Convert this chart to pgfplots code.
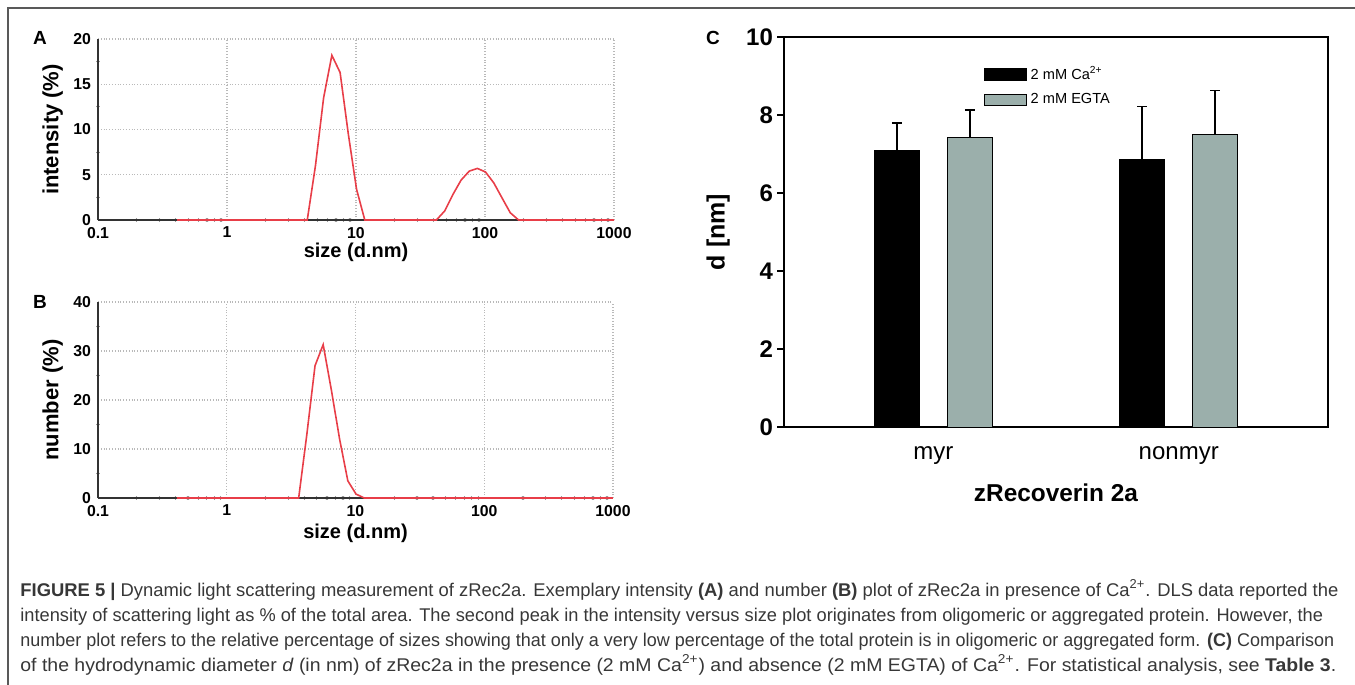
\documentclass[border=0pt]{standalone}
\usepackage{pgfplots}
\pgfplotsset{compat=1.18}
\usepackage{fontspec}
\setmainfont{Liberation Sans}
\definecolor{dlsred}{RGB}{232,62,72}
\definecolor{barGray}{RGB}{155,175,171}
\definecolor{capt}{RGB}{55,55,55}
\begin{document}
\begin{tikzpicture}[x=0.5pt,y=-0.5pt]
\useasboundingbox (0,0) rectangle (1355,685);
\draw[black!65, line width=0.8pt] (8,685) -- (8,8) -- (1355,8);

% Panel A
\begin{axis}[at={(49pt,-110pt)}, width=258pt, height=90.5pt,
    anchor=south west, scale only axis,
    xmode=log, xmin=0.1, xmax=1000,
    xtick={0.1,1,10,100,1000}, xticklabels={0.1,1,10,100,1000},
    minor xtick={0.2,0.3,0.4,0.5,0.6,0.7,0.8,0.9,2,3,4,5,6,7,8,9,20,30,40,50,60,70,80,90,200,300,400,500,600,700,800,900},
    axis x line*=bottom, axis y line*=left,
    axis line style={-, black!80, line width=1pt},
    major grid style={gray!55, densely dotted, line width=0.7pt},
    xmajorgrids, ymajorgrids,
    major tick length=0pt,
    minor tick length=0.01pt,
    minor tick style={line width=1.6pt, line cap=round, black!80},
    /pgf/number format/assume math mode=true,
    ticklabel style={font=\fontsize{7.9pt}{8pt}\selectfont\bfseries},
    xlabel style={font=\fontsize{10pt}{11pt}\selectfont\bfseries},
    ylabel style={font=\fontsize{11pt}{12pt}\selectfont\bfseries},
    xlabel={size (d.nm)},
  ymin=0, ymax=20, ytick={0,5,10,15,20}, minor y tick num=1,
  ylabel={intensity (\%)},
  xlabel style={at={(axis description cs:0.5,0)}, anchor=center, yshift=-16pt},
  ylabel style={at={(axis description cs:-0.088,0.5)}, anchor=center}]
\addplot[dlsred, line width=0.8pt] coordinates {
(0.41,0) (4.19,0) (4.85,6) (5.61,13.5) (6.50,18.2) (7.53,16.3) (8.72,9.5) (10.1,3.4) (11.7,0)
(42,0) (48.7,1.0) (56.3,2.8) (65.2,4.4) (75.5,5.4) (87.4,5.7) (101,5.3) (117,4.1) (136,2.4) (157,0.8) (182,0) (1000,0)};
\end{axis}

% Panel B
\begin{axis}[at={(49pt,-249pt)}, width=257.5pt, height=98pt,
    anchor=south west, scale only axis,
    xmode=log, xmin=0.1, xmax=1000,
    xtick={0.1,1,10,100,1000}, xticklabels={0.1,1,10,100,1000},
    minor xtick={0.2,0.3,0.4,0.5,0.6,0.7,0.8,0.9,2,3,4,5,6,7,8,9,20,30,40,50,60,70,80,90,200,300,400,500,600,700,800,900},
    axis x line*=bottom, axis y line*=left,
    axis line style={-, black!80, line width=1pt},
    major grid style={gray!55, densely dotted, line width=0.7pt},
    xmajorgrids, ymajorgrids,
    major tick length=0pt,
    minor tick length=0.01pt,
    minor tick style={line width=1.6pt, line cap=round, black!80},
    /pgf/number format/assume math mode=true,
    ticklabel style={font=\fontsize{7.9pt}{8pt}\selectfont\bfseries},
    xlabel style={font=\fontsize{10pt}{11pt}\selectfont\bfseries},
    ylabel style={font=\fontsize{11pt}{12pt}\selectfont\bfseries},
    xlabel={size (d.nm)},
  ymin=0, ymax=40, ytick={0,10,20,30,40}, minor y tick num=1,
  ylabel={number (\%)},
  xlabel style={at={(axis description cs:0.5,0)}, anchor=center, yshift=-17.5pt},
  ylabel style={at={(axis description cs:-0.088,0.5)}, anchor=center}]
\addplot[dlsred, line width=0.8pt] coordinates {
(0.41,0) (3.62,0) (4.19,13) (4.85,27) (5.61,31.3) (6.50,22) (7.53,12) (8.72,3.5) (10.1,0.8) (11.7,0) (1000,0)};
\end{axis}

% Panel C
\begin{axis}[at={(392pt,-213.5pt)}, anchor=south west, scale only axis,
  width=272pt, height=195pt,
  xmin=-0.608, xmax=1.608, ymin=0, ymax=10,
  ytick={0,2,4,6,8,10}, xtick={0,1}, xticklabels={myr,nonmyr},
  x tick style={draw=none}, ytick pos=left, tick align=outside,
  major tick length=3.5pt,
  axis line style={black, line width=0.9pt},
  y tick style={black, line width=0.9pt},
  ybar, bar width=22.5pt,
  /pgf/number format/assume math mode=true,
  yticklabel style={font=\fontsize{12pt}{13pt}\selectfont\bfseries, xshift=1.5pt},
  xticklabel style={font=\fontsize{12pt}{13pt}\selectfont, yshift=-3pt},
  xlabel={zRecoverin 2a}, ylabel={d [nm]},
  xlabel style={font=\fontsize{12.2pt}{13pt}\selectfont\bfseries, at={(axis description cs:0.5,0)}, anchor=center, yshift=-33pt},
  ylabel style={font=\fontsize{12.5pt}{13pt}\selectfont\bfseries, at={(axis description cs:-0.121,0.5)}, anchor=center},
  legend style={at={(rel axis cs:0.366,0.936)}, anchor=north west, draw=none, fill=none,
    font=\fontsize{7.3pt}{8pt}\selectfont, inner sep=0pt, row sep=1.5pt,
    cells={anchor=west}},
  legend image code/.code={\draw[#1, line width=0.6pt] (0pt,-2.8pt) rectangle (21pt,2.8pt);},
  ]
\addplot[fill=black, draw=black, line width=0.5pt, bar shift=-18.25pt,
  error bars/.cd, y dir=plus, y explicit,
  error bar style={line width=0.9pt, black},
  error mark options={rotate=90, mark size=2.5pt, line width=0.9pt, black}]
  coordinates {(0,7.1) +- (0,0.7) (1,6.87) +- (0,1.35)};
\addplot[fill=barGray, draw=black, line width=0.5pt, bar shift=18.25pt,
  error bars/.cd, y dir=plus, y explicit,
  error bar style={line width=0.9pt, black},
  error mark options={rotate=90, mark size=2.5pt, line width=0.9pt, black}]
  coordinates {(0,7.42) +- (0,0.71) (1,7.5) +- (0,1.13)};
\legend{2 mM Ca\textsuperscript{2+}, 2 mM EGTA}
\end{axis}

% panel letters
\node[font=\fontsize{9.5pt}{10pt}\selectfont\bfseries] at (40,38) {A};
\node[font=\fontsize{9.5pt}{10pt}\selectfont\bfseries] at (40,302) {B};
\node[font=\fontsize{9.5pt}{10pt}\selectfont\bfseries] at (713,38) {C};

% caption
\begin{scope}[every node/.style={anchor=base west, inner sep=0pt, text=capt, font=\fontsize{9.2pt}{10pt}\selectfont}]
\node at (20,596) {\textbf{FIGURE 5 |} Dynamic light scattering measurement of zRec2a. Exemplary intensity \textbf{(A)} and number \textbf{(B)} plot of zRec2a in presence of Ca\textsuperscript{2+}. DLS data reported the};
\node at (20,621) {\scalebox{0.991}[1]{intensity of scattering light as \% of the total area. The second peak in the intensity versus size plot originates from oligomeric or aggregated protein. However, the}};
\node at (20,646) {\scalebox{0.977}[1]{number plot refers to the relative percentage of sizes showing that only a very low percentage of the total protein is in oligomeric or aggregated form. \textbf{(C)} Comparison}};
\node at (20,671) {\scalebox{1.058}[1]{of the hydrodynamic diameter \textit{d} (in nm) of zRec2a in the presence (2 mM Ca\textsuperscript{2+}) and absence (2 mM EGTA) of Ca\textsuperscript{2+}. For statistical analysis, see \textbf{Table 3}.}};
\end{scope}
\end{tikzpicture}
\end{document}
